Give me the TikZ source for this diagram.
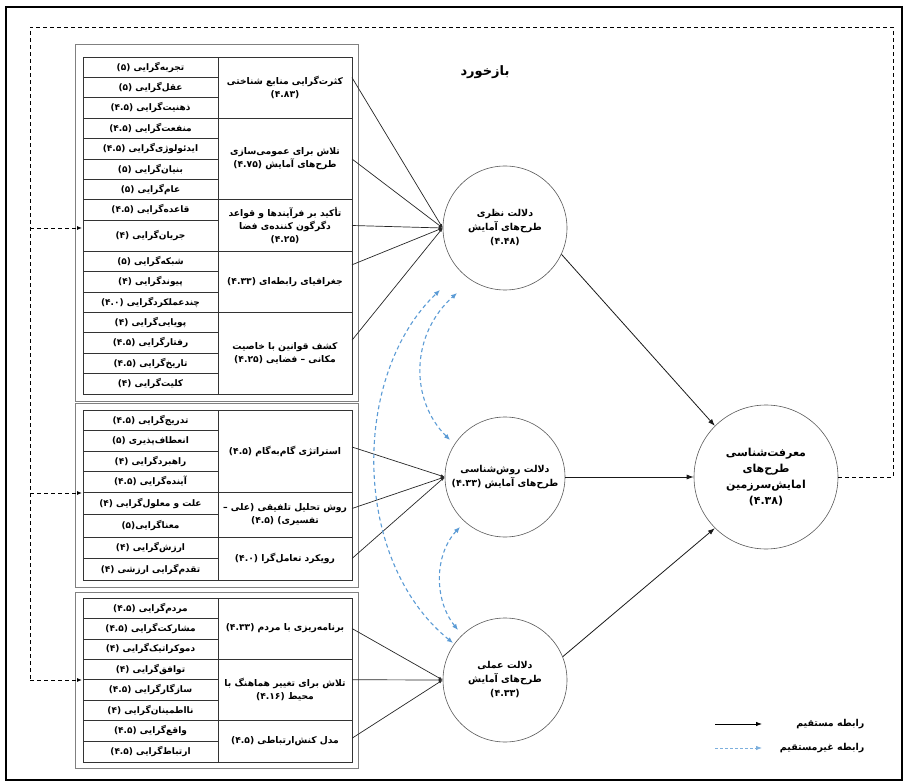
\documentclass[tikz,border=0pt]{standalone}
\usepackage{fontspec}
\usetikzlibrary{arrows.meta,calc}
\TeXXeTstate=1
\newfontfamily\farsi[Script=Arabic]{DejaVu Sans}
\newcommand\fr[1]{\beginR#1\endR}
\newcommand\nm[1]{\beginL#1\endL{}}
\definecolor{bluec}{RGB}{91,155,213}
\begin{document}
\begin{tikzpicture}[x=1pt,y=-1pt,
  every node/.style={font=\farsi\bfseries\fontsize{9}{12}\selectfont},
  lcell/.style={draw=black!80, line width=0.7pt, anchor=north west, minimum width=135pt, inner sep=0pt, outer sep=0pt},
  rcell/.style={lcell, minimum width=134pt, align=center, font=\farsi\bfseries\fontsize{9.2}{13}\selectfont},
  grp/.style={draw=black!50, line width=0.7pt, anchor=north west, minimum width=283pt, inner sep=0pt, outer sep=0pt},
  circ/.style={circle, draw=black!65, line width=0.6pt, inner sep=0pt, align=center, font=\farsi\bfseries\fontsize{9.5}{14}\selectfont},
  conn/.style={draw=black!85, line width=0.7pt, -{Latex[length=4pt,width=3pt]}},
  bigconn/.style={draw=black!90, line width=0.8pt, -{Latex[length=7pt,width=5pt]}},
  fb/.style={draw=black, line width=0.9pt, dash pattern=on 4pt off 3pt},
  fbarrow/.style={fb, -{Latex[length=5pt,width=4pt]}},
  blu/.style={draw=bluec, line width=1.1pt, dash pattern=on 4pt off 3pt, {Latex[length=6pt,width=5pt]}-{Latex[length=6pt,width=5pt]}},
  legtext/.style={anchor=east, font=\farsi\bfseries\fontsize{9.5}{12}\selectfont},
]
\useasboundingbox (0,0) rectangle (905,783);
\draw[line width=2pt] (6,7) rectangle (902,780);

% group boxes
\node[grp, minimum height=357pt] (g1) at (75,44) {};
\node[grp, minimum height=184pt] (g2) at (75,403) {};
\node[grp, minimum height=176pt] (g3) at (75,592) {};

% group 1
\node[lcell, minimum height=20.4pt] (a1) at (83,57) {\fr{تجربه‌گرایی \nm{(۵)}}};
\node[lcell, minimum height=20.4pt] (a2) at (83,77.4) {\fr{عقل‌گرایی \nm{(۵)}}};
\node[lcell, minimum height=20.4pt] (a3) at (83,97.8) {\fr{ذهنیت‌گرایی \nm{(۴.۵)}}};
\node[lcell, minimum height=20.4pt] (a4) at (83,118.2) {\fr{منفعت‌گرایی \nm{(۴.۵)}}};
\node[lcell, minimum height=20.4pt] (a5) at (83,138.6) {\fr{ایدئولوژی‌گرایی \nm{(۴.۵)}}};
\node[lcell, minimum height=20.4pt] (a6) at (83,159.0) {\fr{بنیان‌گرایی \nm{(۵)}}};
\node[lcell, minimum height=20.4pt] (a7) at (83,179.4) {\fr{عام‌گرایی \nm{(۵)}}};
\node[lcell, minimum height=20.4pt] (a8) at (83,199.8) {\fr{قاعده‌گرایی \nm{(۴.۵)}}};
\node[lcell, minimum height=31pt] (a9) at (83,220.2) {\fr{جریان‌گرایی \nm{(۴)}}};
\node[lcell, minimum height=20.4pt] (a10) at (83,251.2) {\fr{شبکه‌گرایی \nm{(۵)}}};
\node[lcell, minimum height=20.4pt] (a11) at (83,271.6) {\fr{پیوندگرایی \nm{(۴)}}};
\node[lcell, minimum height=20.4pt] (a12) at (83,292.0) {\fr{چندعملکردگرایی \nm{(۴.۰)}}};
\node[lcell, minimum height=20.4pt] (a13) at (83,312.4) {\fr{پویایی‌گرایی \nm{(۴)}}};
\node[lcell, minimum height=20.4pt] (a14) at (83,332.8) {\fr{رفتارگرایی \nm{(۴.۵)}}};
\node[lcell, minimum height=20.4pt] (a15) at (83,353.2) {\fr{تاریخ‌گرایی \nm{(۴.۵)}}};
\node[lcell, minimum height=20.4pt] (a16) at (83,373.6) {\fr{کلیت‌گرایی \nm{(۴)}}};

\node[rcell, minimum height=61.2pt] (k1) at (218,57) {\fr{کثرت‌گرایی منابع شناختی}\\\nm{(۴.۸۳)}};
\node[rcell, minimum height=81.6pt] (k2) at (218,118.2) {\fr{تلاش برای عمومی‌سازی}\\\fr{طرح‌های آمایش \nm{(۴.۷۵)}}};
\node[rcell, minimum height=51.4pt] (k3) at (218,199.8) {\fr{تأکید بر فرآیندها و قواعد}\\\fr{دگرگون کننده‌ی فضا}\\\nm{(۴.۲۵)}};
\node[rcell, minimum height=61.2pt] (k4) at (218,251.2) {\fr{جغرافیای رابطه‌ای \nm{(۴.۳۳)}}};
\node[rcell, minimum height=81.6pt] (k5) at (218,312.4) {\fr{کشف قوانین با خاصیت}\\\fr{مکانی – فضایی \nm{(۴.۲۵)}}};

% group 2
\node[lcell, minimum height=20.5pt] (b1) at (83,410) {\fr{تدریج‌گرایی \nm{(۴.۵)}}};
\node[lcell, minimum height=20.5pt] (b2) at (83,430.5) {\fr{انعطاف‌پذیری \nm{(۵)}}};
\node[lcell, minimum height=20.5pt] (b3) at (83,451) {\fr{راهبردگرایی \nm{(۴)}}};
\node[lcell, minimum height=20.5pt] (b4) at (83,471.5) {\fr{آینده‌گرایی \nm{(۴.۵)}}};
\node[lcell, minimum height=22.5pt] (b5) at (83,492) {\fr{علت و معلول‌گرایی \nm{(۴)}}};
\node[lcell, minimum height=22.5pt] (b6) at (83,514.5) {\fr{معناگرایی\nm{(۵)}}};
\node[lcell, minimum height=21.5pt] (b7) at (83,537) {\fr{ارزش‌گرایی \nm{(۴)}}};
\node[lcell, minimum height=21.5pt] (b8) at (83,558.5) {\fr{تقدم‌گرایی ارزشی \nm{(۴)}}};

\node[rcell, minimum height=82pt] (m1) at (218,410) {\fr{استراتژی گام‌به‌گام \nm{(۴.۵)}}};
\node[rcell, minimum height=45pt] (m2) at (218,492) {\fr{روش تحلیل تلفیقی (علی –}\\\fr{تفسیری) \nm{(۴.۵)}}};
\node[rcell, minimum height=43pt] (m3) at (218,537) {\fr{رویکرد تعامل‌گرا \nm{(۴.۰)}}};

% group 3
\node[lcell, minimum height=20.5pt] (c1) at (83,598) {\fr{مردم‌گرایی \nm{(۴.۵)}}};
\node[lcell, minimum height=20.5pt] (c2) at (83,618.5) {\fr{مشارکت‌گرایی \nm{(۴.۵)}}};
\node[lcell, minimum height=20pt] (c3) at (83,639) {\fr{دموکراتیک‌گرایی \nm{(۴)}}};
\node[lcell, minimum height=20.5pt] (c4) at (83,659) {\fr{توافق‌گرایی \nm{(۴)}}};
\node[lcell, minimum height=20.5pt] (c5) at (83,679.5) {\fr{سازگارگرایی \nm{(۴.۵)}}};
\node[lcell, minimum height=20.5pt] (c6) at (83,700) {\fr{نااطمینان‌گرایی \nm{(۴)}}};
\node[lcell, minimum height=20.5pt] (c7) at (83,720.5) {\fr{واقع‌گرایی \nm{(۴.۵)}}};
\node[lcell, minimum height=21pt] (c8) at (83,741) {\fr{ارتباط‌گرایی \nm{(۴.۵)}}};

\node[rcell, minimum height=61pt] (p1) at (218,598) {\fr{برنامه‌ریزی با مردم \nm{(۴.۳۳)}}};
\node[rcell, minimum height=61.5pt] (p2) at (218,659) {\fr{تلاش برای تغییر هماهنگ با}\\\fr{محیط \nm{(۴.۱۶)}}};
\node[rcell, minimum height=41.5pt] (p3) at (218,720.5) {\fr{مدل کنش‌ارتباطی \nm{(۴.۵)}}};

% circles
\node[circ, minimum size=124pt] (C1) at (505,228) {\fr{دلالت نظری}\\\fr{طرح‌های آمایش}\\\nm{(۴.۴۸)}};
\node[circ, minimum size=120pt] (C2) at (505,477) {\fr{دلالت روش‌شناسی}\\\fr{طرح‌های آمایش \nm{(۴.۳۳)}}};
\node[circ, minimum size=124pt] (C3) at (505,680) {\fr{دلالت عملی}\\\fr{طرح‌های آمایش}\\\nm{(۴.۳۳)}};
\node[circ, minimum size=144pt, font=\farsi\bfseries\fontsize{11}{16}\selectfont] (C4) at (766,477) {\fr{معرفت‌شناسی}\\\fr{طرح‌های}\\\fr{امایش‌سرزمین}\\\nm{(۴.۳۸)}};

\node[font=\farsi\bfseries\fontsize{13}{15}\selectfont] (title) at (485,72) {\fr{بازخورد}};

% connectors to circles
\draw[conn] ([yshift=10pt]k1.east) -- (C1.west);
\draw[conn] (k2.east) -- (C1.west);
\draw[conn] (k3.east) -- (C1.west);
\draw[conn] ([yshift=17pt]k4.east) -- (C1.west);
\draw[conn] ([yshift=13pt]k5.east) -- (C1.west);
\draw[conn] ([yshift=4pt]m1.east) -- (C2.west);
\draw[conn] ([yshift=6pt]m2.east) -- (C2.west);
\draw[conn] (m3.east) -- (C2.west);
\draw[conn] (p1.east) -- (C3.west);
\draw[conn] ([yshift=10pt]p2.east) -- (C3.west);
\draw[conn] ([yshift=3pt]p3.east) -- (C3.west);

\draw[bigconn] (C1.-25) -- (C4.135);
\draw[bigconn] (C2.east) -- (C4.west);
\draw[bigconn] (C3.22) -- (C4.-135);

% indirect (blue) links
\coordinate (u1) at (450,440); \coordinate (u2) at (457,293);
\coordinate (v1) at (453,643); \coordinate (v2) at (440,290);
\coordinate (w1) at (458,630); \coordinate (w2) at (460,527);
\draw[blu] (u1) .. controls (410,400) and (410,335) .. (u2);
\draw[blu] (v1) .. controls (351,560) and (351,375) .. (v2);
\draw[blu] (w1) .. controls (434,600) and (434,555) .. (w2);

% feedback
\coordinate (fR) at (893,477);
\coordinate (fTR) at (893,27);
\coordinate (fTL) at (30,27);
\coordinate (fL1) at (30,228);
\coordinate (fL2) at (30,493);
\coordinate (fL3) at (30,680);
\coordinate (in1) at (82,228);
\coordinate (in2) at (82,493);
\coordinate (in3) at (82,680);
\draw[fb] (C4.east) -- (fR) -- (fTR) -- (fTL) -- (fL3);
\draw[fbarrow] (fL1) -- (in1);
\draw[fbarrow] (fL2) -- (in2);
\draw[fbarrow] (fL3) -- (in3);

% legend
\coordinate (la1) at (715,724); \coordinate (la2) at (762,724);
\coordinate (lb1) at (715,748); \coordinate (lb2) at (762,748);
\draw[draw=black, line width=0.8pt, -{Latex[length=6pt,width=4.5pt]}] (la1) -- (la2);
\draw[draw=bluec!80, line width=0.8pt, dash pattern=on 3pt off 2pt, -{Latex[length=6pt,width=4.5pt]}] (lb1) -- (lb2);
\node[legtext] (lt1) at (868,724) {\fr{رابطه مستقیم}};
\node[legtext] (lt2) at (868,748) {\fr{رابطه غیرمستقیم}};
\end{tikzpicture}
\end{document}
